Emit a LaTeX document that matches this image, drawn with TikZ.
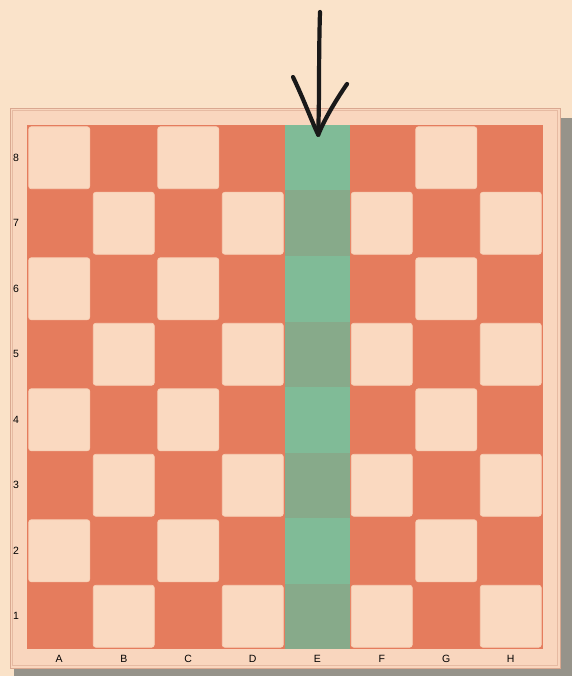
\documentclass[tikz,border=0pt]{standalone}
\usepackage{fontspec}
\setsansfont{Liberation Sans}
\definecolor{paper}{HTML}{FAE2C8}
\definecolor{framecol}{HTML}{F9D6BE}
\definecolor{frameline}{HTML}{D9A890}
\definecolor{darksq}{HTML}{E57C5D}
\definecolor{lightsq}{HTML}{FAD9C0}
\definecolor{greenA}{HTML}{80BB97}
\definecolor{greenB}{HTML}{87AA8A}
\definecolor{shadowcol}{HTML}{96938A}
\begin{document}
\begin{tikzpicture}[x=1pt,y=-1pt,
  lightbox/.style={fill=lightsq, draw=lightsq!90!darksq, line width=0.6pt, rounded corners=2.5pt,
    minimum width=61pt, minimum height=62pt, inner sep=0pt},
  greenbox/.style={minimum width=64.5pt, minimum height=65.5pt, inner sep=0pt, draw=none},
  lbl/.style={font=\sffamily\fontsize{10.5}{12}\selectfont, text=black, inner sep=0pt},
  pen/.style={draw=black!90, line width=4.2pt, line cap=round, line join=round}]
\useasboundingbox (0,0) rectangle (572,676);
\fill[paper] (0,0) rectangle (572,676);
\fill[paper!97!white] (0,0) rectangle (572,80);
% shadow
\fill[shadowcol] (14,667) rectangle (572,676);
\fill[shadowcol] (558,118) rectangle (572,676);
% frame
\draw[frameline, fill=framecol, line width=0.8pt] (10,108) rectangle (560,668);
\draw[frameline!60!framecol, line width=0.5pt] (12.5,110.5) rectangle (557.5,665.5);
% board
\fill[darksq] (27,125) rectangle (543,649);
\foreach \i in {0,...,7}{
  \foreach \j in {0,...,7}{
    \pgfmathtruncatemacro{\parity}{mod(\i+\j,2)}
    \ifnum\i=4
      \ifnum\parity=0
        \node[greenbox, fill=greenA] (sq-\i-\j) at ({27+64.5*\i+32.25},{125+65.5*\j+32.75}) {};
      \else
        \node[greenbox, fill=greenB] (sq-\i-\j) at ({27+64.5*\i+32.25},{125+65.5*\j+32.75}) {};
      \fi
    \else
      \ifnum\parity=0
        \node[lightbox] (sq-\i-\j) at ({27+64.5*\i+32.25},{125+65.5*\j+32.75}) {};
      \fi
    \fi
  }
}
% rank labels
\foreach \j/\r in {0/8,1/7,2/6,3/5,4/4,5/3,6/2,7/1}{
  \node[lbl] (rank-\r) at (16,{125+65.5*\j+32.75}) {\r};
}
% file labels
\foreach \i/\f in {0/A,1/B,2/C,3/D,4/E,5/F,6/G,7/H}{
  \node[lbl] (file-\f) at ({27+64.5*\i+32.25},659) {\f};
}
% arrow
\coordinate (arrowtop) at (320,12);
\coordinate (armL) at (293,77);
\coordinate (armR) at (347,84);
\coordinate (tip) at ([xshift=1pt,yshift=-10pt]sq-4-0.north);
\draw[pen] (arrowtop) .. controls (318.5,60) and (319.5,100) .. ([yshift=6pt]tip);
\draw[pen] (armL) .. controls (304,100) and (312,122) .. (tip);
\draw[pen] (armR) .. controls (336,100) and (324,120) .. (tip);
\end{tikzpicture}
\end{document}
